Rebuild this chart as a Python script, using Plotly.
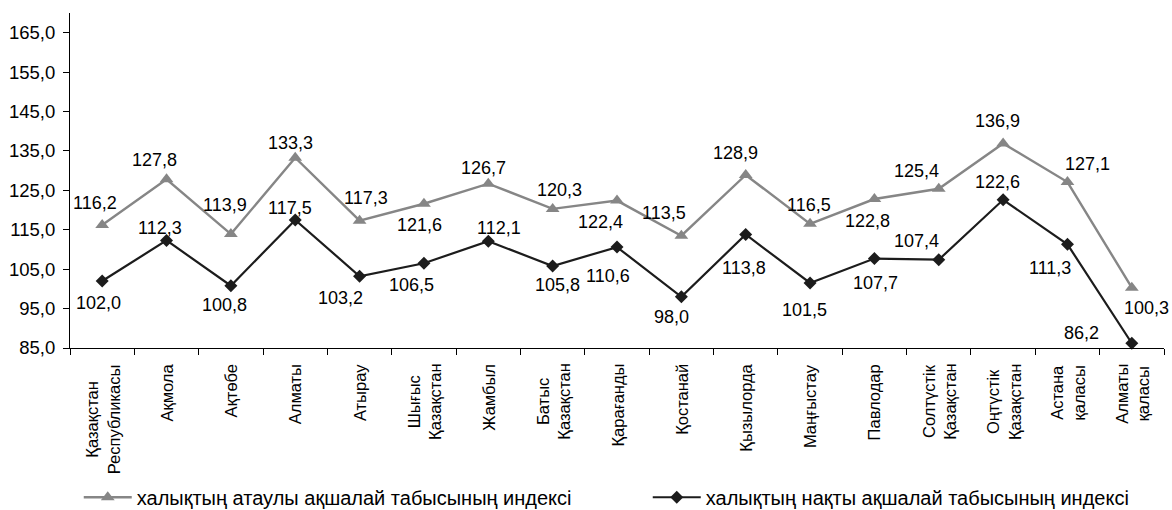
import plotly.graph_objects as go

categories = ["Қазақстан<br>Республикасы", "Ақмола", "Ақтөбе", "Алматы", "Атырау",
              "Шығыс<br>Қазақстан", "Жамбыл", "Батыс<br>Қазақстан", "Қарағанды",
              "Қостанай", "Қызылорда", "Маңғыстау", "Павлодар", "Солтүстік<br>Қазақстан",
              "Оңтүстік<br>Қазақстан", "Астана<br>қаласы", "Алматы<br>қаласы"]
nominal_name = "халықтың атаулы ақшалай табысының индексі"
real_name = "халықтың нақты ақшалай табысының индексі"
nominal = [116.2, 127.8, 113.9, 133.3, 117.3, 121.6, 126.7, 120.3, 122.4, 113.5,
           128.9, 116.5, 122.8, 125.4, 136.9, 127.1, 100.3]
real = [102.0, 112.3, 100.8, 117.5, 103.2, 106.5, 112.1, 105.8, 110.6, 98.0,
        113.8, 101.5, 107.7, 107.4, 122.6, 111.3, 86.2]
y_ticks = [85, 95, 105, 115, 125, 135, 145, 155, 165]

# label offsets (pixels) – styling only
nominal_dx = [-7, -12, -6, -5, 6, -4, -5, 7, -17, -17, -10, -1, -7, -22, -6, 20, 15]
nominal_dy = [-22, -19, -29, -15, -23, 21, -16, -19, 21, -23, -22, -19, 22, -18, -22, -18, 20]
real_dx = [-4, -7, -6, -5, -19, -12, 11, 5, -9, -10, -2, -6, 1, -22, -6, -17, -50]
real_dy = [22, -12, 19, -12, 22, 22, -13, 19, 29, 20, 34, 27, 24, -19, -18, 24, -10]

FONT = "Liberation Sans, Arial, sans-serif"
GRAY = "#868686"
DARK = "#1c1c1c"
LBL = 18
TICK = 18.5
XLBL = 16.5
LEG = 20

fig = go.Figure()
fig.add_trace(go.Scatter(x=categories, y=nominal, name=nominal_name, mode="lines+markers",
                         line=dict(color=GRAY, width=2.4),
                         marker=dict(symbol="triangle-up", size=12, color=GRAY),
                         cliponaxis=False, legendwidth=506))
fig.add_trace(go.Scatter(x=categories, y=real, name=real_name, mode="lines+markers",
                         line=dict(color=DARK, width=2.2),
                         marker=dict(symbol="diamond", size=10, color=DARK),
                         cliponaxis=False))

def fmt(v):
    return f"{v:.1f}".replace(".", ",")

annotations = []
for c, v, dx, dy in zip(categories, nominal, nominal_dx, nominal_dy):
    annotations.append(dict(x=c, y=v, xref="x", yref="y", text=fmt(v), showarrow=False,
                            xshift=dx, yshift=-dy, font=dict(size=LBL, color="black", family=FONT)))
for c, v, dx, dy in zip(categories, real, real_dx, real_dy):
    annotations.append(dict(x=c, y=v, xref="x", yref="y", text=fmt(v), showarrow=False,
                            xshift=dx, yshift=-dy, font=dict(size=LBL, color="black", family=FONT)))
for c in categories:
    annotations.append(dict(x=c, y=0, xref="x", yref="paper", text=c, showarrow=False,
                            textangle=-90, yanchor="top", xanchor="center", align="center",
                            yshift=-14, font=dict(size=XLBL, color="black", family=FONT)))

fig.update_layout(
    width=1172, height=510,
    margin=dict(l=70, r=8, t=13, b=162),
    paper_bgcolor="white", plot_bgcolor="white",
    font=dict(family=FONT, size=LBL, color="black"),
    showlegend=True,
    legend=dict(orientation="h", x=0.008, xanchor="left", yref="container", y=0.025,
                yanchor="middle", itemwidth=48,
                font=dict(size=LEG, color="black", family=FONT), bgcolor="rgba(0,0,0,0)"),
    annotations=annotations,
)
fig.update_xaxes(type="category", showgrid=False, showline=True, linecolor="black", linewidth=1,
                 ticks="outside", tickson="boundaries", ticklen=6, tickcolor="black",
                 showticklabels=False, range=[-0.5, len(categories) - 0.5])
fig.update_yaxes(range=[85, 170], tickvals=y_ticks, ticktext=[fmt(t) for t in y_ticks],
                 showgrid=False, showline=True, linecolor="black", linewidth=1,
                 ticks="outside", ticklen=6, tickcolor="black", zeroline=False,
                 ticklabelstandoff=4,
                 tickfont=dict(size=TICK, color="black", family=FONT))

fig.write_html("out.html", config={"displayModeBar": False},
               post_script="document.body.style.margin='0';document.body.style.overflow='hidden';")
